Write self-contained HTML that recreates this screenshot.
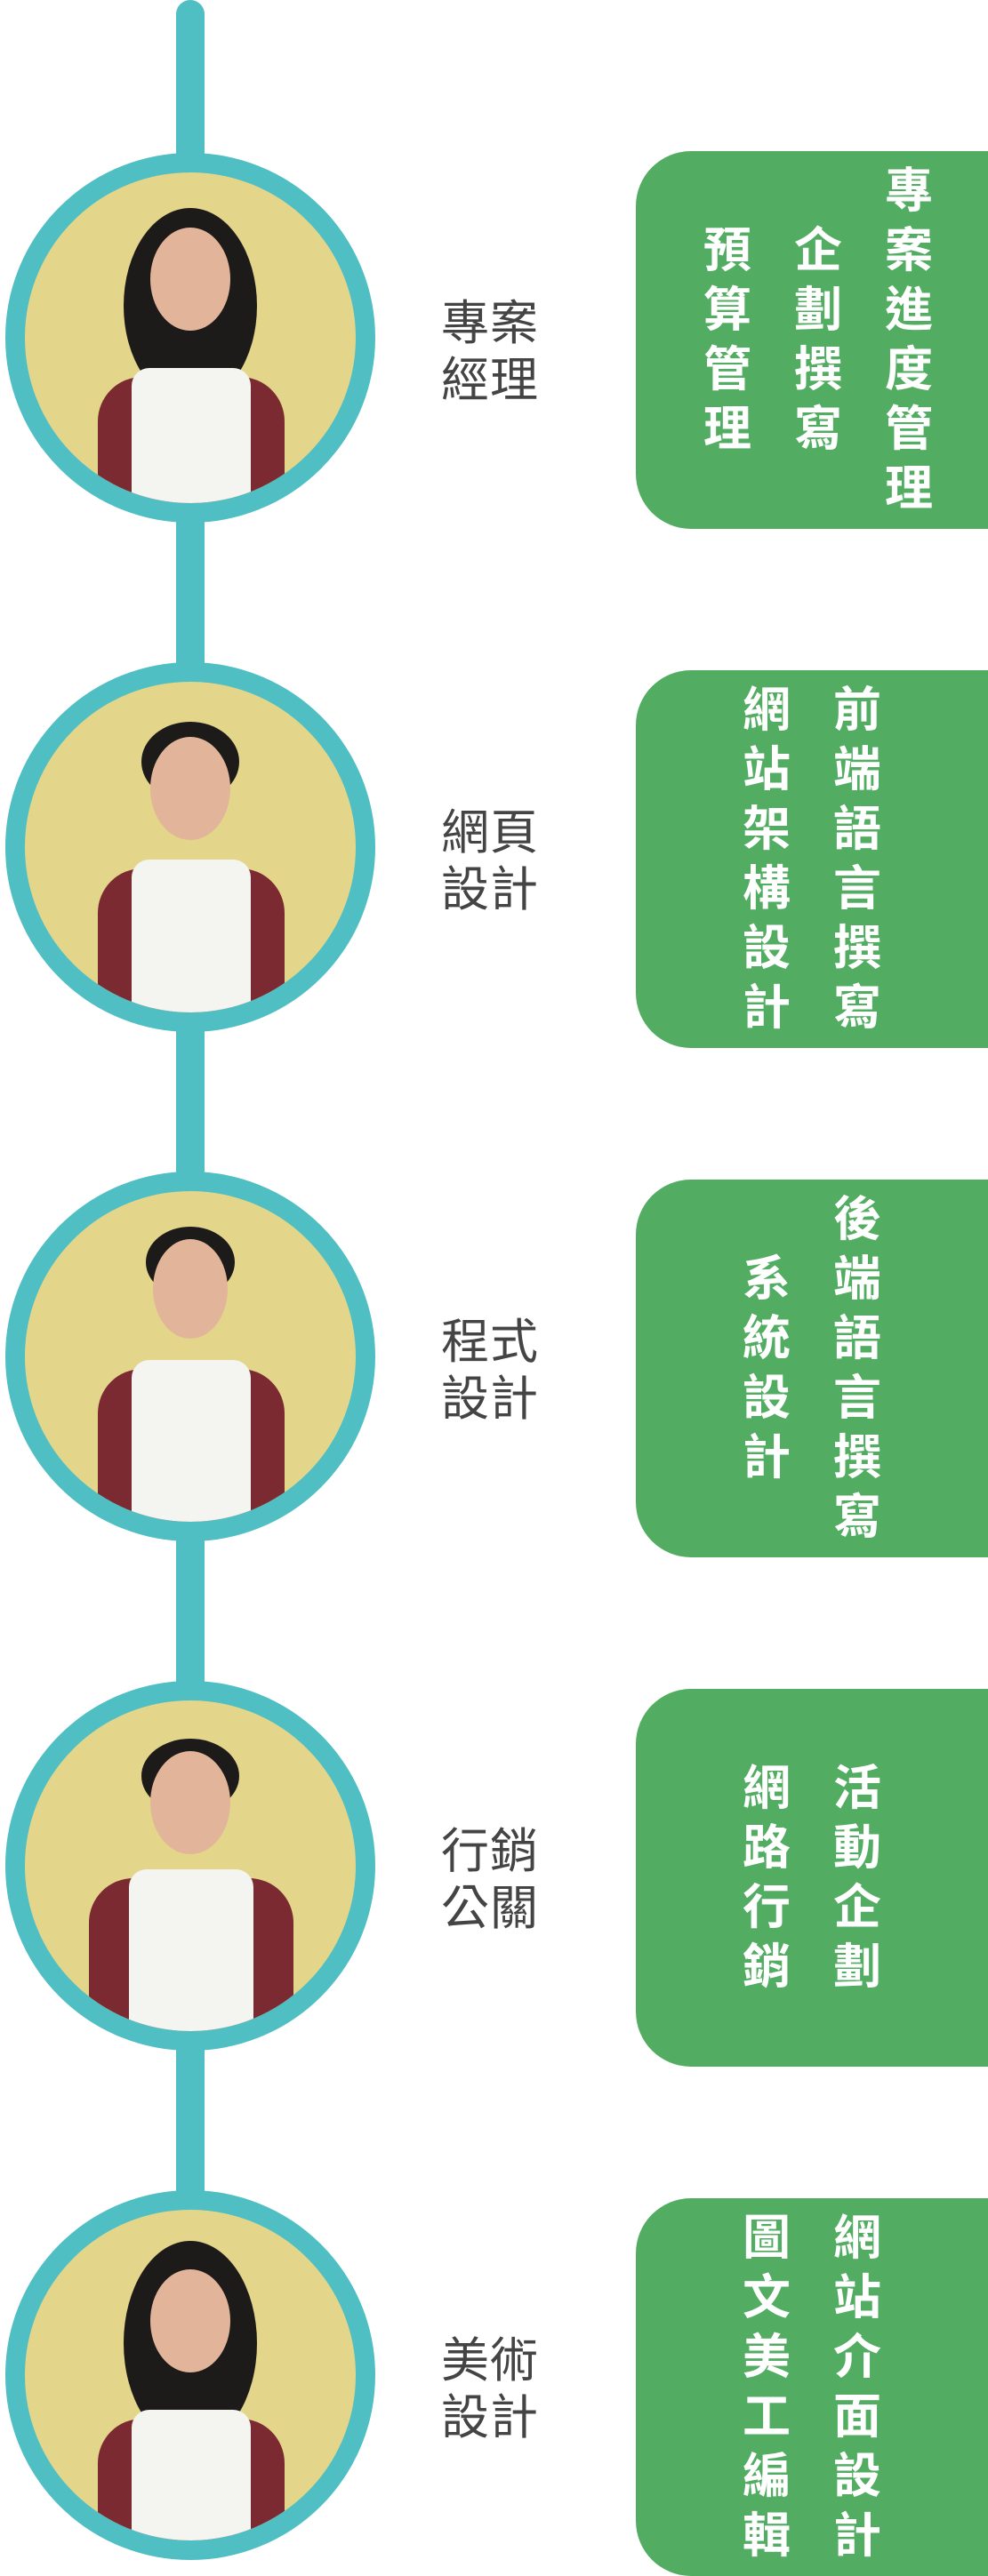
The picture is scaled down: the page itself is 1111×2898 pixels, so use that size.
<!DOCTYPE html>
<html><head><meta charset="utf-8">
<style>
html,body{margin:0;padding:0;background:#fff;}
body{width:1111px;height:2898px;position:relative;overflow:hidden;font-family:"Liberation Sans","Noto Sans CJK TC",sans-serif;}
.line{position:absolute;left:198px;top:0;width:32px;height:2686px;background:#4fbfc4;border-radius:16px;}
.circle{position:absolute;left:6px;width:372px;height:372px;border:22px solid #4fbfc4;border-radius:50%;background:#e3d68b;overflow:hidden;}
.circle svg{position:absolute;left:0;top:0;}
.label{position:absolute;left:496px;width:130px;font-size:54px;line-height:64px;color:#444;font-weight:normal;letter-spacing:1px;}
.box{position:absolute;left:715px;width:396px;height:425px;background:#52ad62;border-radius:62px 0 0 62px;display:flex;flex-direction:row-reverse;justify-content:center;align-items:center;}
.box.three{padding-left:14px;box-sizing:border-box;}
.col{width:60px;margin:0 21px;display:flex;flex-direction:column;align-items:center;color:#fff;font-size:54px;line-height:67px;font-weight:bold;}
</style></head><body>
<div class="line"></div>

<div class="circle" style="top:172px"><svg width="372" height="372"><ellipse cx="186" cy="150" rx="75" ry="110" fill="#1d1a1a"/><rect x="82" y="230" width="210" height="160" rx="50" fill="#7a2a30"/><rect x="120" y="220" width="134" height="170" rx="20" fill="#f4f4f0"/><ellipse cx="186" cy="120" rx="45" ry="58" fill="#e2b59a"/></svg></div>
<div class="circle" style="top:745px"><svg width="372" height="372"><ellipse cx="186" cy="90" rx="55" ry="45" fill="#1d1a1a"/><rect x="82" y="210" width="210" height="180" rx="50" fill="#7a2a30"/><rect x="120" y="200" width="134" height="190" rx="20" fill="#f4f4f0"/><ellipse cx="186" cy="120" rx="45" ry="58" fill="#e2b59a"/></svg></div>
<div class="circle" style="top:1318px"><svg width="372" height="372"><ellipse cx="186" cy="80" rx="50" ry="40" fill="#1d1a1a"/><rect x="82" y="200" width="210" height="190" rx="50" fill="#7a2a30"/><rect x="120" y="190" width="134" height="200" rx="20" fill="#f4f4f0"/><ellipse cx="186" cy="110" rx="42" ry="56" fill="#e2b59a"/></svg></div>
<div class="circle" style="top:1891px"><svg width="372" height="372"><ellipse cx="186" cy="85" rx="55" ry="42" fill="#1d1a1a"/><rect x="72" y="200" width="230" height="190" rx="50" fill="#7a2a30"/><rect x="117" y="190" width="140" height="200" rx="20" fill="#f4f4f0"/><ellipse cx="186" cy="115" rx="45" ry="58" fill="#e2b59a"/></svg></div>
<div class="circle" style="top:2464px"><svg width="372" height="372"><ellipse cx="186" cy="150" rx="75" ry="115" fill="#1d1a1a"/><rect x="82" y="235" width="210" height="160" rx="50" fill="#7a2a30"/><rect x="120" y="225" width="134" height="170" rx="20" fill="#f4f4f0"/><ellipse cx="186" cy="125" rx="45" ry="58" fill="#e2b59a"/></svg></div>

<div class="label" style="top:332px">專案<br>經理</div>
<div class="label" style="top:905px">網頁<br>設計</div>
<div class="label" style="top:1478px">程式<br>設計</div>
<div class="label" style="top:2051px">行銷<br>公關</div>
<div class="label" style="top:2624px">美術<br>設計</div>

<div class="box three" style="top:170px">
<div class="col"><span>專</span><span>案</span><span>進</span><span>度</span><span>管</span><span>理</span></div>
<div class="col"><span>企</span><span>劃</span><span>撰</span><span>寫</span></div>
<div class="col"><span>預</span><span>算</span><span>管</span><span>理</span></div>
</div>
<div class="box" style="top:754px">
<div class="col"><span>前</span><span>端</span><span>語</span><span>言</span><span>撰</span><span>寫</span></div>
<div class="col"><span>網</span><span>站</span><span>架</span><span>構</span><span>設</span><span>計</span></div>
</div>
<div class="box" style="top:1327px">
<div class="col"><span>後</span><span>端</span><span>語</span><span>言</span><span>撰</span><span>寫</span></div>
<div class="col"><span>系</span><span>統</span><span>設</span><span>計</span></div>
</div>
<div class="box" style="top:1900px">
<div class="col"><span>活</span><span>動</span><span>企</span><span>劃</span></div>
<div class="col"><span>網</span><span>路</span><span>行</span><span>銷</span></div>
</div>
<div class="box" style="top:2473px">
<div class="col"><span>網</span><span>站</span><span>介</span><span>面</span><span>設</span><span>計</span></div>
<div class="col"><span>圖</span><span>文</span><span>美</span><span>工</span><span>編</span><span>輯</span></div>
</div>
</body></html>
